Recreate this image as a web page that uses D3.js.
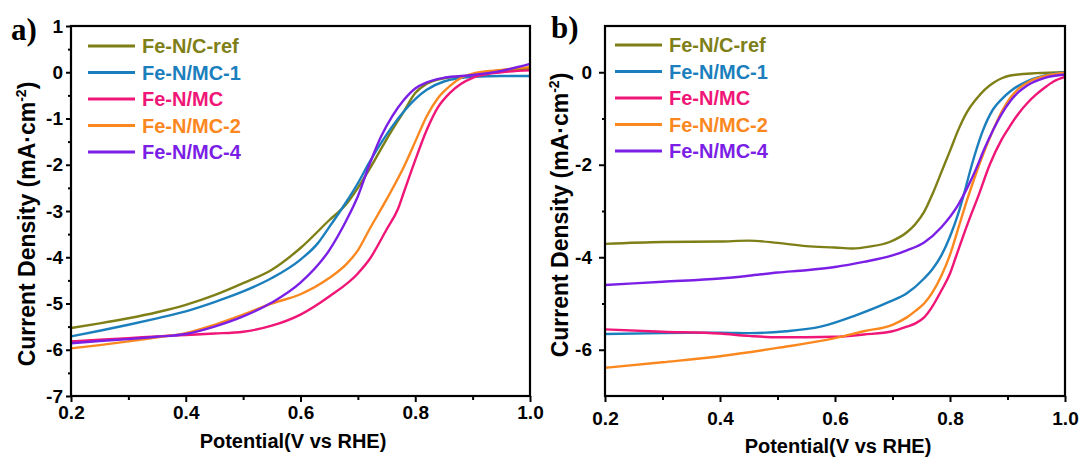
<!DOCTYPE html>
<html>
<head>
<meta charset="utf-8">
<script src="https://cdn.jsdelivr.net/npm/d3@7"></script>
<style>
  body { margin: 0; background: #fff; }
  text { font-family: "Liberation Sans", Arial, sans-serif; font-weight: bold; }
</style>
</head>
<body>
<script>
// series names + colours (same order in both panels)
var seriesNames = ["Fe-N/C-ref", "Fe-N/MC-1", "Fe-N/MC", "Fe-N/MC-2", "Fe-N/MC-4"];
var seriesColors = ["#7f7f17", "#1c7fbd", "#ef1677", "#fb881f", "#7b1fe6"];

var xTicks = [0.2, 0.4, 0.6, 0.8, 1.0];
var xMinorTicks = [0.3, 0.5, 0.7, 0.9];

// panel a) [potential V, current density mA/cm2]
var aRef = [[0.2,-5.53],[0.25,-5.43],[0.3,-5.32],[0.35,-5.19],[0.4,-5.03],[0.45,-4.82],[0.5,-4.56],[0.55,-4.27],[0.6,-3.8],[0.65,-3.2],[0.68,-2.85],[0.7,-2.5],[0.72,-2.1],[0.75,-1.45],[0.78,-0.85],[0.8,-0.45],[0.82,-0.25],[0.85,-0.13],[0.9,-0.07],[0.95,0.02],[1.0,0.08]];
var aMC1 = [[0.2,-5.71],[0.25,-5.59],[0.3,-5.46],[0.35,-5.32],[0.4,-5.17],[0.45,-4.97],[0.5,-4.74],[0.55,-4.45],[0.6,-4.05],[0.63,-3.7],[0.65,-3.35],[0.68,-2.8],[0.7,-2.4],[0.72,-1.95],[0.75,-1.35],[0.78,-0.85],[0.8,-0.58],[0.82,-0.38],[0.85,-0.2],[0.9,-0.1],[0.95,-0.08],[1.0,-0.08]];
var aMC = [[0.2,-5.82],[0.25,-5.78],[0.3,-5.75],[0.35,-5.71],[0.4,-5.68],[0.45,-5.65],[0.5,-5.61],[0.55,-5.48],[0.6,-5.24],[0.65,-4.85],[0.7,-4.35],[0.72,-4.05],[0.75,-3.4],[0.77,-2.95],[0.78,-2.6],[0.8,-1.9],[0.82,-1.25],[0.84,-0.75],[0.86,-0.45],[0.88,-0.25],[0.9,-0.12],[0.93,-0.03],[0.95,0],[1.0,0.04]];
var aMC2 = [[0.2,-5.97],[0.25,-5.9],[0.3,-5.82],[0.35,-5.73],[0.4,-5.64],[0.45,-5.46],[0.5,-5.24],[0.55,-5.0],[0.6,-4.8],[0.65,-4.45],[0.68,-4.15],[0.7,-3.85],[0.72,-3.4],[0.75,-2.75],[0.78,-2.05],[0.8,-1.5],[0.82,-0.95],[0.84,-0.55],[0.86,-0.3],[0.88,-0.12],[0.9,-0.03],[0.95,0.05],[1.0,0.11]];
var aMC4 = [[0.2,-5.86],[0.25,-5.81],[0.3,-5.77],[0.35,-5.72],[0.4,-5.66],[0.45,-5.5],[0.5,-5.28],[0.55,-4.98],[0.6,-4.55],[0.65,-3.85],[0.68,-3.2],[0.7,-2.68],[0.72,-2.0],[0.74,-1.4],[0.76,-0.95],[0.78,-0.6],[0.8,-0.35],[0.82,-0.22],[0.85,-0.12],[0.9,-0.06],[0.95,0.03],[1.0,0.18]];

// panel b)
var bRef = [[0.2,-3.71],[0.3,-3.67],[0.4,-3.66],[0.45,-3.64],[0.5,-3.69],[0.55,-3.76],[0.6,-3.79],[0.63,-3.81],[0.66,-3.77],[0.695,-3.67],[0.725,-3.46],[0.74,-3.28],[0.755,-3.02],[0.77,-2.62],[0.785,-2.16],[0.8,-1.7],[0.815,-1.23],[0.83,-0.85],[0.845,-0.59],[0.86,-0.38],[0.875,-0.23],[0.89,-0.13],[0.905,-0.07],[0.95,-0.02],[1.0,0]];
var bMC1 = [[0.2,-5.66],[0.3,-5.64],[0.4,-5.63],[0.455,-5.64],[0.515,-5.6],[0.575,-5.5],[0.635,-5.26],[0.695,-4.96],[0.725,-4.78],[0.755,-4.46],[0.77,-4.25],[0.785,-3.96],[0.8,-3.55],[0.815,-3.03],[0.825,-2.6],[0.838,-2.0],[0.856,-1.3],[0.875,-0.8],[0.89,-0.58],[0.905,-0.41],[0.935,-0.19],[0.965,-0.07],[1.0,0]];
var bMC = [[0.2,-5.56],[0.3,-5.61],[0.4,-5.65],[0.45,-5.7],[0.5,-5.73],[0.55,-5.73],[0.6,-5.72],[0.65,-5.67],[0.7,-5.6],[0.725,-5.5],[0.74,-5.43],[0.755,-5.3],[0.77,-5.05],[0.785,-4.72],[0.8,-4.35],[0.81,-4.0],[0.83,-3.3],[0.85,-2.65],[0.869,-2.0],[0.89,-1.45],[0.905,-1.15],[0.92,-0.88],[0.935,-0.66],[0.95,-0.48],[0.965,-0.33],[0.98,-0.2],[1.0,-0.1]];
var bMC2 = [[0.2,-6.39],[0.3,-6.27],[0.4,-6.14],[0.5,-5.96],[0.6,-5.75],[0.65,-5.6],[0.7,-5.46],[0.725,-5.3],[0.74,-5.16],[0.755,-5.0],[0.77,-4.75],[0.785,-4.4],[0.8,-3.95],[0.815,-3.35],[0.83,-2.75],[0.845,-2.2],[0.86,-1.7],[0.875,-1.25],[0.89,-0.85],[0.905,-0.55],[0.92,-0.35],[0.935,-0.22],[0.965,-0.08],[1.0,-0.01]];
var bMC4 = [[0.2,-4.6],[0.3,-4.53],[0.4,-4.46],[0.45,-4.4],[0.5,-4.33],[0.55,-4.28],[0.6,-4.21],[0.65,-4.1],[0.7,-3.96],[0.725,-3.85],[0.755,-3.68],[0.785,-3.35],[0.815,-2.85],[0.83,-2.5],[0.845,-2.1],[0.86,-1.65],[0.875,-1.25],[0.89,-0.9],[0.905,-0.62],[0.92,-0.42],[0.935,-0.28],[0.965,-0.12],[1.0,-0.05]];

var aYTicks = [-7, -6, -5, -4, -3, -2, -1, 0, 1];
var aYMinor = [-6.5, -5.5, -4.5, -3.5, -2.5, -1.5, -0.5, 0.5];
var bYTicks = [-6, -4, -2, 0];
var bYMinor = [-5, -3, -1];

var svg = d3.select("body").append("svg")
    .attr("width", 1085)
    .attr("height", 461);

function drawPanel(p) {
  var x = d3.scaleLinear().domain([0.2, 1.0]).range([p.left, p.right]);
  var y = d3.scaleLinear().domain([-7, 1]).range([p.bottom, p.top]);
  var g = svg.append("g");

  // curves
  var line = d3.line()
    .x(d => x(d[0]))
    .y(d => y(d[1]))
    .curve(d3.curveMonotoneX);
  p.series.forEach(function(s, i) {
    g.append("path")
      .datum(s)
      .attr("d", line)
      .attr("fill", "none")
      .attr("stroke", seriesColors[i])
      .attr("stroke-width", 2.4);
  });

  // x axis
  g.append("g")
    .attr("transform", `translate(0, ${p.bottom})`)
    .call(d3.axisBottom(x).tickValues(xTicks).tickSize(6).tickPadding(p.xPad).tickFormat(d3.format(".1f")));
  g.append("g")
    .attr("transform", `translate(0, ${p.bottom})`)
    .call(d3.axisBottom(x).tickValues(xMinorTicks).tickSize(4).tickFormat(""));

  // y axis
  g.append("g")
    .attr("transform", `translate(${p.left}, 0)`)
    .call(d3.axisLeft(y).tickValues(p.yTicks).tickSize(p.yTick).tickPadding(p.yPad).tickFormat(d => String(d)));
  g.append("g")
    .attr("transform", `translate(${p.left}, 0)`)
    .call(d3.axisLeft(y).tickValues(p.yMinor).tickSize(3).tickFormat(""));

  g.selectAll(".domain").remove();
  g.selectAll(".tick line").attr("stroke", "#000").attr("stroke-width", 2);
  g.selectAll(".tick text").attr("fill", "#000").style("font-size", "19px")
    .style("font-family", "'Liberation Sans', Arial, sans-serif").style("font-weight", "bold");

  // frame
  g.append("rect")
    .attr("x", p.left).attr("y", p.top)
    .attr("width", p.right - p.left).attr("height", p.bottom - p.top)
    .attr("fill", "none").attr("stroke", "#000").attr("stroke-width", 2.2);

  // axis titles
  g.append("text")
    .attr("x", p.xTitleX).attr("y", p.xTitleY)
    .attr("text-anchor", "middle")
    .style("font-size", "20px")
    .text("Potential(V vs RHE)");

  var yt = g.append("text")
    .attr("transform", `translate(${p.yTitleX}, ${p.yTitleY}) rotate(-90)`)
    .attr("text-anchor", "middle")
    .style("font-size", "23px");
  yt.append("tspan").text("Current Density (mA·cm");
  yt.append("tspan").attr("dy", -9).style("font-size", "14px").text("-2");
  yt.append("tspan").attr("dy", 9).text(")");

  // panel label
  g.append("text")
    .attr("x", p.labelX).attr("y", p.labelY)
    .style("font-family", "'Liberation Serif', 'Times New Roman', serif")
    .style("font-size", "31px")
    .text(p.label);

  // legend
  seriesNames.forEach(function(name, i) {
    var ly = p.legY + i * 26.5;
    g.append("line")
      .attr("x1", p.legX).attr("x2", p.legX + 47)
      .attr("y1", ly).attr("y2", ly)
      .attr("stroke", seriesColors[i]).attr("stroke-width", 3);
    g.append("text")
      .attr("x", p.legX + 54).attr("y", ly)
      .attr("dy", "0.36em")
      .attr("fill", seriesColors[i])
      .style("font-size", "20px")
      .text(name);
  });
}

drawPanel({
  left: 71, right: 530, top: 26, bottom: 396,
  series: [aRef, aMC1, aMC, aMC2, aMC4],
  yTicks: aYTicks, yMinor: aYMinor, yTick: 5, yPad: 3, xPad: 4,
  xTitleX: 293, xTitleY: 448, yTitleX: 35, yTitleY: 224,
  label: "a)", labelX: 11, labelY: 40,
  legX: 88, legY: 46
});

drawPanel({
  left: 605, right: 1065, top: 26, bottom: 396,
  series: [bRef, bMC1, bMC, bMC2, bMC4],
  yTicks: bYTicks, yMinor: bYMinor, yTick: 6, yPad: 7, xPad: 10,
  xTitleX: 838, xTitleY: 453, yTitleX: 568, yTitleY: 215,
  label: "b)", labelX: 551, labelY: 38,
  legX: 615, legY: 45
});
</script>
</body>
</html>
